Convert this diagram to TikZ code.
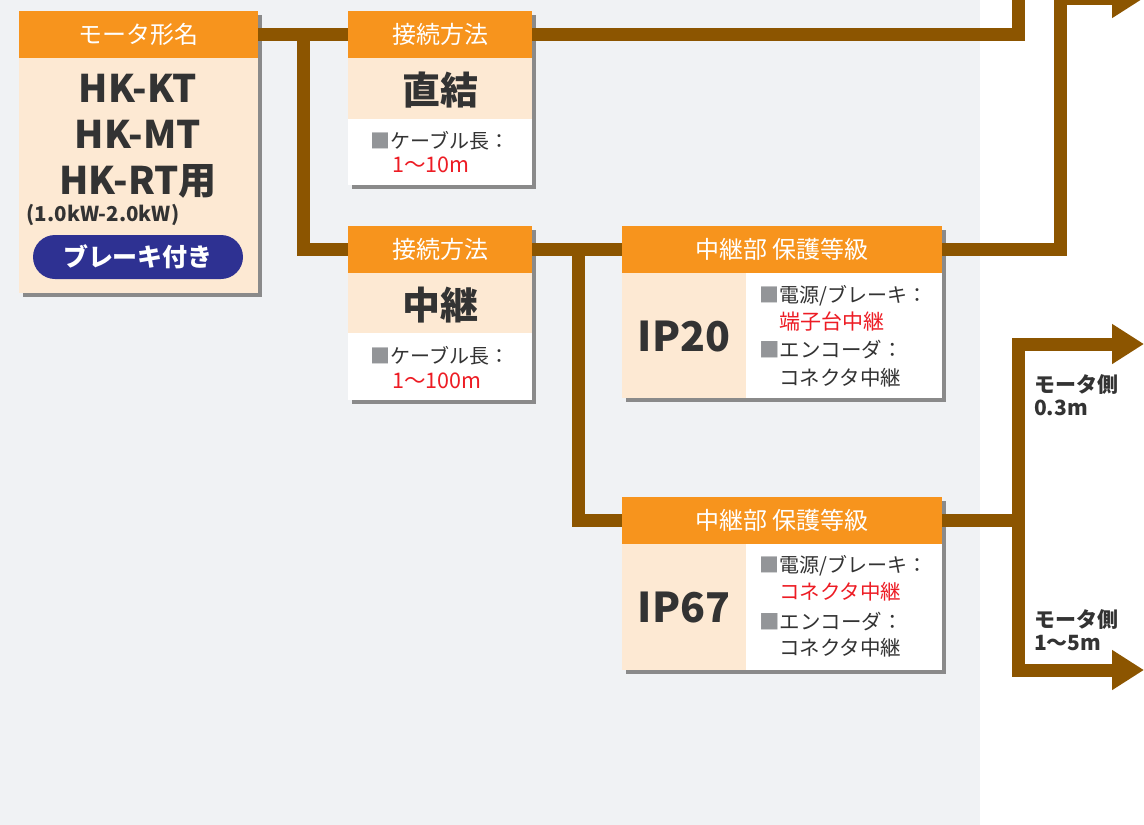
\documentclass[tikz,border=0pt]{standalone}
\usepackage{fontspec}
\setmainfont{Noto Sans CJK JP}
\usepackage{xcolor}
\usetikzlibrary{arrows.meta,shadows}

\definecolor{hdrorange}{HTML}{F7941D}
\definecolor{peach}{HTML}{FDE9D3}
\definecolor{pipebrown}{HTML}{8C5500}
\definecolor{bggray}{HTML}{F0F2F4}
\definecolor{shadowgray}{HTML}{8A8A8A}
\definecolor{txtred}{HTML}{ED1C24}
\definecolor{txtdark}{HTML}{333333}
\definecolor{sqgray}{HTML}{939598}
\definecolor{pillblue}{HTML}{2E3192}

\newcommand{\graysq}{{\color{sqgray}■}}
\newcommand{\fsz}[1]{\fontsize{#1}{#1}\selectfont}

\tikzset{
  frame/.style = {rectangle,
      fill = white,
      inner sep = 0pt,
      drop shadow = {shadow xshift = 4pt, shadow yshift = -4pt,
        fill = shadowgray, opacity = 1}},
  hdr/.style = {rectangle,
      fill = hdrorange,
      text = white,
      inner sep = 0pt,
      minimum height = 47pt,
      font = \fsz{24}},
  band/.style = {rectangle,
      fill = peach,
      inner sep = 0pt},
  big/.style = {text = txtdark, inner sep = 0pt, font = \fsz{38}\bfseries},
  small/.style = {text = txtdark, inner sep = 0pt, font = \fsz{20}},
  redval/.style = {small, anchor = west, text = txtred, font = \fsz{21.5}},
  sidelbl/.style = {small, anchor = north west, align = left,
      font = \fontsize{21}{23}\selectfont\bfseries},
  pipe/.style = {draw = pipebrown, line width = 13pt},
  bigtip/.style = {-{Triangle[length = 32pt, width = 38pt]}},
}

\begin{document}
\begin{tikzpicture}[x = 1pt, y = -1pt]
  \useasboundingbox (0,0) rectangle (1144,825);
  \clip (0,0) rectangle (1144,825);
  % backdrop
  \fill[bggray] (0,0) rectangle (980,825);

  % motor type box
  \node[frame, fill = peach, minimum width = 239pt, minimum height = 282pt] (motor) at (138.5,152) {};
  \node[hdr, minimum width = 239pt] (motorhead) at (138.5,34.5) {モータ形名};
  \node[big, align = center, font = \fsz{38}\bfseries, text depth = 0pt] (motorname)
      at (138,134) {HK-KT\\[8pt]HK-MT\\[8pt]HK-RT用};
  \node[small, font = \fsz{20.5}\bfseries] (motorkw) at (103,215) {(1.0kW-2.0kW)};
  \node[rectangle, rounded corners = 22pt, fill = pillblue, text = white,
      minimum width = 210pt, minimum height = 44pt, inner sep = 0pt,
      font = \fsz{25}\bfseries] (brake) at (138,257) {ブレーキ付き};

  % direct connection
  \node[frame, minimum width = 184pt, minimum height = 174pt] (direct) at (440,98) {};
  \node[hdr, minimum width = 184pt] (directhead) at (440,34.5) {接続方法};
  \node[band, minimum width = 184pt, minimum height = 61pt] (directband) at (440,88.5) {};
  \node[big] (directname) at (440,90) {直結};
  \node[small] (directlen) at (440,141) {\graysq ケーブル長：};
  \node[redval] (directval) at (392,165) {1〜10m};

  % relay connection
  \node[frame, minimum width = 184pt, minimum height = 174pt] (relay) at (440,313) {};
  \node[hdr, minimum width = 184pt] (relayhead) at (440,249.5) {接続方法};
  \node[band, minimum width = 184pt, minimum height = 60pt] (relayband) at (440,303) {};
  \node[big] (relayname) at (440,305) {中継};
  \node[small] (relaylen) at (440,356) {\graysq ケーブル長：};
  \node[redval] (relayval) at (392,381) {1〜100m};

  % IP20 relay part
  \node[frame, minimum width = 320pt, minimum height = 172pt] (ipa) at (782,312) {};
  \node[hdr, minimum width = 320pt] (ipahead) at (782,249.5) {中継部 保護等級};
  \node[band, minimum width = 124pt, minimum height = 125pt] (ipaband) at (684,335.5) {};
  \node[big, font = \fsz{41}\bfseries] (ipaname) at (684,337) {IP20};
  \node[small, anchor = west] (ipapow) at (759,296) {\graysq 電源/ブレーキ：};
  \node[redval, font = \fsz{21}] (ipapowval) at (779,322) {端子台中継};
  \node[small, anchor = west, font = \fsz{20.5}] (ipaenc) at (759,350) {\graysq エンコーダ：};
  \node[small, anchor = west, font = \fsz{20.5}] (ipaencval) at (779,378) {コネクタ中継};

  % IP67 relay part
  \node[frame, minimum width = 320pt, minimum height = 173pt] (ipb) at (782,583.5) {};
  \node[hdr, minimum width = 320pt] (ipbhead) at (782,520.5) {中継部 保護等級};
  \node[band, minimum width = 124pt, minimum height = 126pt] (ipbband) at (684,607) {};
  \node[big, font = \fsz{41}\bfseries] (ipbname) at (684,608) {IP67};
  \node[small, anchor = west] (ipbpow) at (759,566) {\graysq 電源/ブレーキ：};
  \node[redval, font = \fsz{20.5}] (ipbpowval) at (779,592) {コネクタ中継};
  \node[small, anchor = west, font = \fsz{20.5}] (ipbenc) at (759,622) {\graysq エンコーダ：};
  \node[small, anchor = west, font = \fsz{20.5}] (ipbencval) at (779,648) {コネクタ中継};

  % brown pipes
  \coordinate (splitm) at (303.5,34.5);
  \coordinate (splitr) at (578,249.5);
  \coordinate (splitb) at (1018.5,520.5);
  \coordinate (topdirect) at (1018.5,-20);
  \coordinate (bendipa) at (1060,-2);
  \coordinate (endipa) at (1144,-2);
  \coordinate (endshort) at (1144,344);
  \coordinate (endlong) at (1144,670);

  \draw[pipe] (motorhead.east) -- (directhead.west);
  \draw[pipe] (splitm) |- (relayhead.west);
  \draw[pipe] (directhead.east) -| (topdirect);
  \draw[pipe] (relayhead.east) -- (ipahead.west);
  \draw[pipe] (splitr) |- (ipbhead.west);
  \draw[pipe, bigtip] (ipahead.east) -| (bendipa) -- (endipa);
  \draw[pipe] (ipbhead.east) -- (splitb);
  \draw[pipe, bigtip] (splitb) |- (endshort);
  \draw[pipe, bigtip] (splitb) |- (endlong);

  % motor side lengths
  \node[sidelbl] (shortlbl) at (1034,374) {モータ側\\0.3m};
  \node[sidelbl] (longlbl) at (1034,609) {モータ側\\1〜5m};
\end{tikzpicture}
\end{document}
